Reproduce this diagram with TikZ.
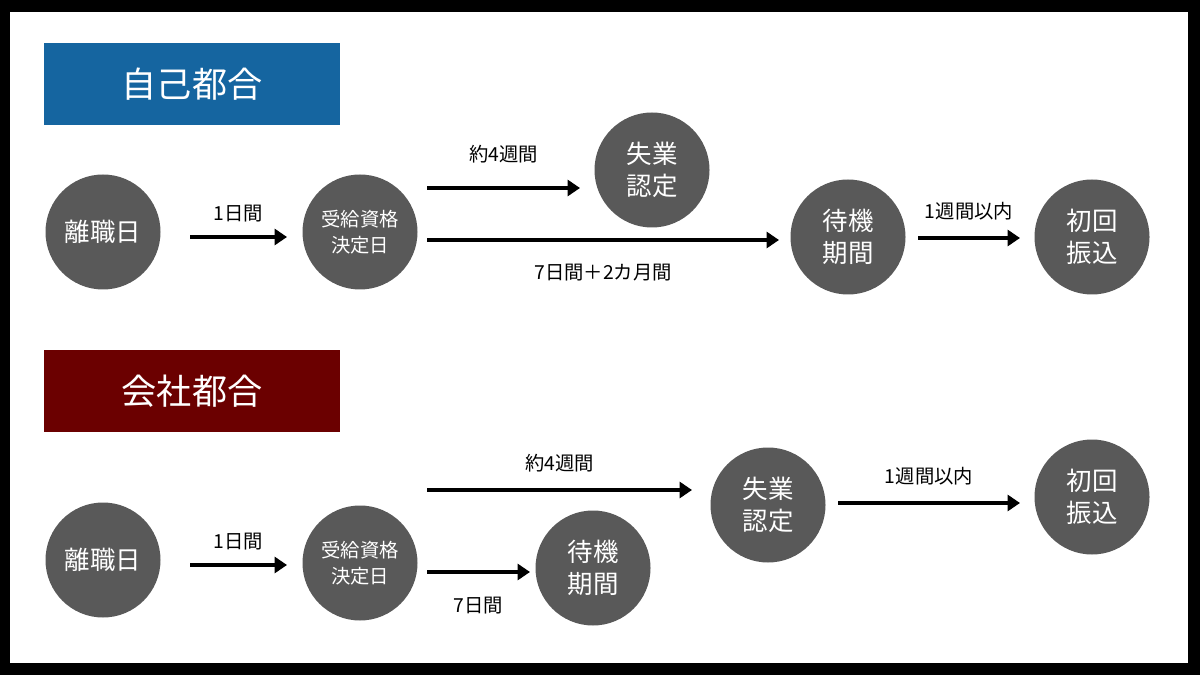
\documentclass[tikz,border=0pt]{standalone}
\usepackage{fontspec}
\setmainfont{Noto Sans CJK JP}
\usetikzlibrary{arrows.meta}
\definecolor{cblue}{HTML}{1565A0}
\definecolor{cred}{HTML}{6B0000}
\definecolor{cgray}{HTML}{595959}
\begin{document}
\begin{tikzpicture}[x=0.02cm,y=-0.02cm,
 circ/.style={circle,fill=cgray,minimum size=115*0.02cm,inner sep=0pt,text=white,font=\fontsize{14.5}{18}\selectfont,align=center},
 circs/.style={circ,font=\fontsize{11}{15}\selectfont},
 title/.style={minimum width=296*0.02cm,minimum height=82*0.02cm,text=white,font=\fontsize{20}{24}\selectfont,inner sep=0pt},
 lab/.style={font=\fontsize{11}{13}\selectfont},
 arr/.style={line width=2.2pt,-{Triangle[length=7pt,width=9pt]}}]
\fill[black] (0,0) rectangle (1200,675);
\fill[white] (10,12) rectangle (1188,663);
\node[title,fill=cblue] (t1) at (192,84) {自己都合};
\node[title,fill=cred] (t2) at (192,391) {会社都合};
% top
\node[circ] (a1) at (103,232) {離職日};
\node[circs] (a2) at (360,232) {受給資格\\決定日};
\node[circ] (a3) at (652,170) {失業\\認定};
\node[circ] (a4) at (848,237) {待機\\期間};
\node[circ] (a5) at (1092,237) {初回\\振込};
\coordinate (p1) at (190,237); \coordinate (p2) at (287,237);
\draw[arr] (p1) -- node[lab,above=4pt] {1日間} (p2);
\coordinate (p3) at (427,188); \coordinate (p4) at (580,188);
\draw[arr] (p3) -- node[lab,above=10pt] {約4週間} (p4);
\coordinate (p5) at (427,240); \coordinate (p6) at (779,240);
\draw[arr] (p5) -- node[lab,below=9pt] {7日間＋2カ月間} (p6);
\coordinate (p7) at (918,238); \coordinate (p8) at (1020,238);
\draw[arr] (p7) -- node[lab,above=6pt] {1週間以内} (p8);
% bottom
\node[circ] (b1) at (103,560) {離職日};
\node[circs] (b2) at (360,563) {受給資格\\決定日};
\node[circ] (b3) at (593,568) {待機\\期間};
\node[circ] (b4) at (768,505) {失業\\認定};
\node[circ] (b5) at (1092,497) {初回\\振込};
\coordinate (q1) at (190,565); \coordinate (q2) at (287,565);
\draw[arr] (q1) -- node[lab,above=4pt] {1日間} (q2);
\coordinate (q3) at (427,490); \coordinate (q4) at (692,490);
\draw[arr] (q3) -- node[lab,above=6pt] {約4週間} (q4);
\coordinate (q5) at (427,572); \coordinate (q6) at (530,572);
\draw[arr] (q5) -- node[lab,below=10pt] {7日間} (q6);
\coordinate (q7) at (838,503); \coordinate (q8) at (1020,503);
\draw[arr] (q7) -- node[lab,above=6pt] {1週間以内} (q8);
\end{tikzpicture}
\end{document}
